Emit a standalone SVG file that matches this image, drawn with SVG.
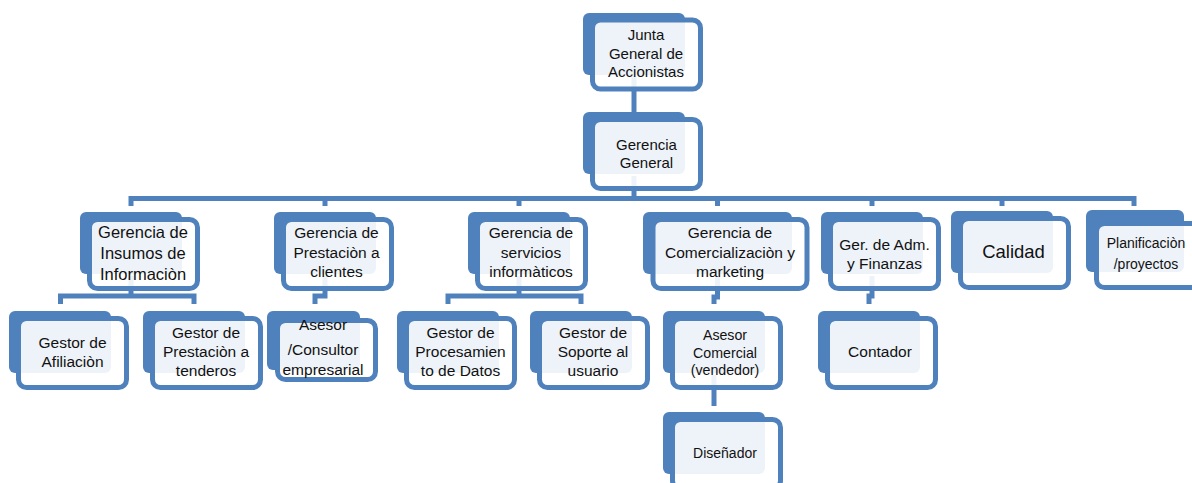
<svg xmlns="http://www.w3.org/2000/svg" width="1192" height="483" viewBox="0 0 1192 483">
  <style>
    .back { fill: #4F81BD; }
    .front { fill: #FFFFFF; fill-opacity: 0.9; stroke: #4F81BD; stroke-width: 5; }
    .conn { fill: none; stroke: #4F81BD; stroke-width: 5; }
    text { font-family: "Liberation Sans", Arial, sans-serif; font-size: 15.5px; fill: #111111; text-anchor: middle; }
    text.s14 { font-size: 14px; }
    text.s142 { font-size: 14.2px; }
    text.s15 { font-size: 15px; }
    text.s165 { font-size: 16.5px; }
    text.s185 { font-size: 18.5px; }
  </style>
  <rect width="1192" height="483" fill="#FFFFFF"/>

  <!-- connectors, drawn first so they show faintly through the card faces -->
  <g id="connectors">
    <path class="conn" d="M634,76 V113"/>
    <path class="conn" d="M634,176 V198.5"/>
    <path class="conn" d="M131,206 V198.5 H1134 V206"/>
    <path class="conn" d="M325,198.5 V206 M519,198.5 V206 M717.5,198.5 V206 M872,198.5 V206 M1002,198.5 V206"/>
    <path class="conn" d="M131,276 V296"/>
    <path class="conn" d="M60.5,304 V296 H194 V304"/>
    <path class="conn" d="M325,276 V296 H315 V304"/>
    <path class="conn" d="M519,276 V296"/>
    <path class="conn" d="M448,304 V296 H581 V304"/>
    <path class="conn" d="M717.5,276 V297 H714 V304"/>
    <path class="conn" d="M872,276 V296 H869 V304"/>
    <path class="conn" d="M714,375 V406"/>
  </g>

  <g id="junta">
    <rect class="back" x="583" y="13" width="102" height="62" rx="6"/>
    <rect class="front" x="592.5" y="20" width="108" height="69" rx="8"/>
    <text class="s15"><tspan x="646" y="40">Junta</tspan><tspan x="646" y="58.5">General de</tspan><tspan x="646" y="77">Accionistas</tspan></text>
  </g>

  <g id="gerencia-general">
    <rect class="back" x="583" y="112" width="102" height="62" rx="6"/>
    <rect class="front" x="592.5" y="119.5" width="108" height="69" rx="8"/>
    <text class="s15"><tspan x="646.5" y="150">Gerencia</tspan><tspan x="646.5" y="167.5">General</tspan></text>
  </g>

  <g id="insumos">
    <rect class="back" x="80" y="212" width="102" height="62" rx="6"/>
    <rect class="front" x="89.5" y="219.5" width="108" height="69" rx="8"/>
    <text class="s165"><tspan x="143" y="238">Gerencia de</tspan><tspan x="143" y="259">Insumos de</tspan><tspan x="143" y="280">Informaciòn</tspan></text>
  </g>

  <g id="prestacion-clientes">
    <rect class="back" x="274" y="212" width="102" height="62" rx="6"/>
    <rect class="front" x="283.5" y="219.5" width="108" height="69" rx="8"/>
    <text><tspan x="336.5" y="238">Gerencia de</tspan><tspan x="336.5" y="257.5">Prestaciòn a</tspan><tspan x="336.5" y="277">clientes</tspan></text>
  </g>

  <g id="servicios">
    <rect class="back" x="468" y="212" width="102" height="62" rx="6"/>
    <rect class="front" x="477.5" y="219.5" width="108" height="69" rx="8"/>
    <text><tspan x="531" y="238">Gerencia de</tspan><tspan x="531" y="257.5">servicios</tspan><tspan x="531" y="277">informàticos</tspan></text>
  </g>

  <g id="comercializacion">
    <rect class="back" x="643" y="212" width="149" height="62" rx="6"/>
    <rect class="front" x="653" y="219.5" width="154" height="69" rx="8"/>
    <text><tspan x="730" y="238">Gerencia de</tspan><tspan x="730" y="258">Comercializaciòn y</tspan><tspan x="730" y="277">marketing</tspan></text>
  </g>

  <g id="adm-finanzas">
    <rect class="back" x="821" y="212" width="102" height="62" rx="6"/>
    <rect class="front" x="830.5" y="219.5" width="108" height="69" rx="8"/>
    <text><tspan x="884.5" y="250">Ger. de Adm.</tspan><tspan x="884.5" y="268.5">y Finanzas</tspan></text>
  </g>

  <g id="calidad">
    <rect class="back" x="951" y="211" width="102" height="62" rx="6"/>
    <rect class="front" x="960.5" y="218.5" width="108" height="69" rx="8"/>
    <text class="s185" x="1013.5" y="258">Calidad</text>
  </g>

  <g id="planificacion">
    <rect class="back" x="1086" y="210" width="98" height="62" rx="6"/>
    <rect class="front" x="1096.5" y="223.5" width="108" height="64" rx="8"/>
    <text class="s14"><tspan x="1146" y="248">Planificaciòn</tspan><tspan x="1146" y="269">/proyectos</tspan></text>
  </g>

  <g id="afiliacion">
    <rect class="back" x="9" y="311" width="102" height="62" rx="6"/>
    <rect class="front" x="18.5" y="318.5" width="108" height="69" rx="8"/>
    <text><tspan x="72.5" y="348">Gestor de</tspan><tspan x="72.5" y="367">Afiliaciòn</tspan></text>
  </g>

  <g id="tenderos">
    <rect class="back" x="143" y="311" width="102" height="62" rx="6"/>
    <rect class="front" x="152.5" y="318.5" width="108" height="69" rx="8"/>
    <text><tspan x="206" y="338">Gestor de</tspan><tspan x="206" y="357">Prestaciòn a</tspan><tspan x="206" y="375.5">tenderos</tspan></text>
  </g>

  <g id="asesor-consultor">
    <rect class="back" x="267" y="311" width="93" height="59" rx="6"/>
    <rect class="front" x="277.5" y="320.5" width="98" height="59" rx="8"/>
    <text><tspan x="323" y="330">Asesor</tspan><tspan x="323" y="355">/Consultor</tspan><tspan x="323" y="375">empresarial</tspan></text>
  </g>

  <g id="procesamiento">
    <rect class="back" x="397" y="311" width="102" height="62" rx="6"/>
    <rect class="front" x="406.5" y="318.5" width="108" height="69" rx="8"/>
    <text><tspan x="460.5" y="338">Gestor de</tspan><tspan x="460.5" y="357">Procesamien</tspan><tspan x="460.5" y="375.5">to de Datos</tspan></text>
  </g>

  <g id="soporte">
    <rect class="back" x="530" y="311" width="102" height="62" rx="6"/>
    <rect class="front" x="539.5" y="318.5" width="108" height="69" rx="8"/>
    <text><tspan x="593" y="338">Gestor de</tspan><tspan x="593" y="357">Soporte al</tspan><tspan x="593" y="375.5">usuario</tspan></text>
  </g>

  <g id="asesor-comercial">
    <rect class="back" x="663" y="311" width="102" height="62" rx="6"/>
    <rect class="front" x="672.5" y="318.5" width="108" height="69" rx="8"/>
    <text class="s142"><tspan x="725" y="340">Asesor</tspan><tspan x="725" y="357.5">Comercial</tspan><tspan x="725" y="375">(vendedor)</tspan></text>
  </g>

  <g id="contador">
    <rect class="back" x="818" y="311" width="102" height="62" rx="6"/>
    <rect class="front" x="827.5" y="318.5" width="108" height="69" rx="8"/>
    <text x="880" y="357">Contador</text>
  </g>

  <g id="disenador">
    <rect class="back" x="663" y="412" width="102" height="62" rx="6"/>
    <rect class="front" x="672.5" y="419.5" width="108" height="69" rx="8"/>
    <text class="s14" x="725" y="458">Diseñador</text>
  </g>
</svg>
